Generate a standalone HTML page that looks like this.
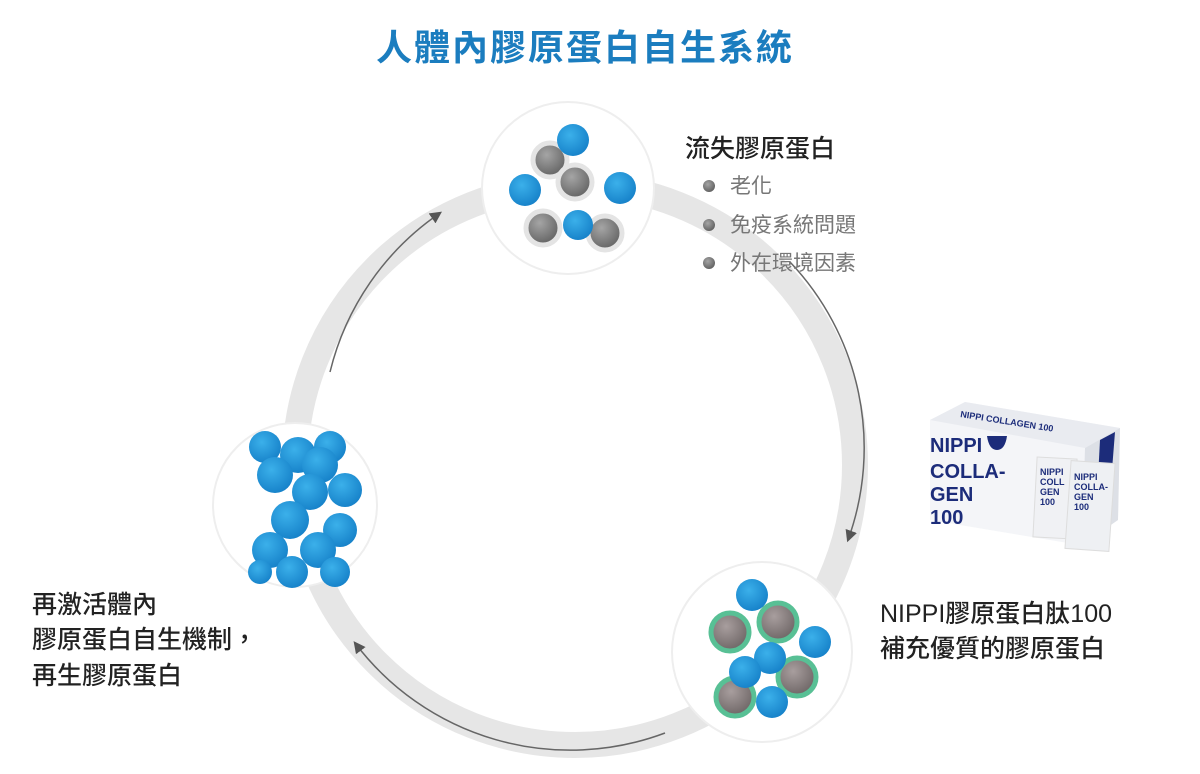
<!DOCTYPE html>
<html><head><meta charset="utf-8"><style>
html,body{margin:0;padding:0;background:#fff;width:1200px;height:774px;overflow:hidden}
svg text{font-family:"Liberation Sans","Noto Sans CJK TC",sans-serif}
</style></head><body>
<svg width="1200" height="774" viewBox="0 0 1200 774" xmlns="http://www.w3.org/2000/svg">
<defs>
<radialGradient id="b" cx="40%" cy="35%" r="70%"><stop offset="0" stop-color="#3bb0ea"/><stop offset="1" stop-color="#1580c8"/></radialGradient>
<radialGradient id="g" cx="40%" cy="35%" r="70%"><stop offset="0" stop-color="#a5a5a5"/><stop offset="1" stop-color="#5e5e5e"/></radialGradient>
<radialGradient id="gb" cx="40%" cy="35%" r="70%"><stop offset="0" stop-color="#a89e9e"/><stop offset="1" stop-color="#6a6262"/></radialGradient>
<marker id="ah" viewBox="0 0 10 10" refX="8" refY="5" markerWidth="8" markerHeight="8" orient="auto"><path d="M0,0 L10,5 L0,10 z" fill="#555"/></marker>
</defs>
<text x="585" y="60" text-anchor="middle" font-size="36" font-weight="bold" fill="#1b7dbf" letter-spacing="2">人體內膠原蛋白自生系統</text>
<circle cx="575" cy="465" r="280" fill="none" stroke="#e6e6e6" stroke-width="26"/>
<path d="M330,372 A270,270 0 0 1 440,213" fill="none" stroke="#666" stroke-width="1.5" marker-end="url(#ah)"/>
<path d="M790,262 A270,270 0 0 1 848,540" fill="none" stroke="#666" stroke-width="1.5" marker-end="url(#ah)"/>
<path d="M665,733 A270,270 0 0 1 355,643" fill="none" stroke="#666" stroke-width="1.5" marker-end="url(#ah)"/>
<circle cx="568" cy="188" r="86" fill="#fff" stroke="#eee" stroke-width="2"/>
<g fill="url(#g)" stroke="#e4e4e4" stroke-width="5">
<circle cx="550" cy="160" r="17"/><circle cx="575" cy="182" r="17"/><circle cx="543" cy="228" r="17"/><circle cx="605" cy="233" r="17"/></g>
<g fill="url(#b)"><circle cx="573" cy="140" r="16"/><circle cx="525" cy="190" r="16"/><circle cx="620" cy="188" r="16"/><circle cx="578" cy="225" r="15"/></g>
<circle cx="295" cy="505" r="82" fill="#fff" stroke="#eee" stroke-width="2"/>
<g fill="url(#b)">
<circle cx="265" cy="447" r="16"/><circle cx="330" cy="447" r="16"/><circle cx="298" cy="455" r="18"/><circle cx="320" cy="465" r="18"/>
<circle cx="275" cy="475" r="18"/><circle cx="310" cy="492" r="18"/><circle cx="345" cy="490" r="17"/><circle cx="290" cy="520" r="19"/>
<circle cx="340" cy="530" r="17"/><circle cx="270" cy="550" r="18"/><circle cx="318" cy="550" r="18"/><circle cx="292" cy="572" r="16"/><circle cx="335" cy="572" r="15"/><circle cx="260" cy="572" r="12"/></g>
<circle cx="762" cy="652" r="90" fill="#fff" stroke="#eee" stroke-width="2"/>
<g fill="url(#gb)" stroke="#58c095" stroke-width="5">
<circle cx="730" cy="632" r="19"/><circle cx="778" cy="622" r="19"/><circle cx="797" cy="677" r="19"/><circle cx="735" cy="697" r="19"/></g>
<g fill="url(#b)"><circle cx="752" cy="595" r="16"/><circle cx="815" cy="642" r="16"/><circle cx="770" cy="658" r="16"/><circle cx="745" cy="672" r="16"/><circle cx="772" cy="702" r="16"/></g>
<text x="685" y="157" font-size="25" font-weight="500" fill="#222">流失膠原蛋白</text>
<g fill="url(#g)"><circle cx="709" cy="186" r="6"/><circle cx="709" cy="225" r="6"/><circle cx="709" cy="263" r="6"/></g>
<g font-size="21" fill="#777"><text x="730" y="193">老化</text><text x="730" y="232">免疫系統問題</text><text x="730" y="270">外在環境因素</text></g>
<g font-size="25" font-weight="500" fill="#222"><text x="32" y="613">再激活體內</text><text x="32" y="648">膠原蛋白自生機制，</text><text x="32" y="684">再生膠原蛋白</text></g>
<g font-size="25" font-weight="500" fill="#222"><text x="880" y="622">NIPPI膠原蛋白肽100</text><text x="880" y="657">補充優質的膠原蛋白</text></g>
<polygon points="930,420 965,402 1120,428 1118,520 1080,545 930,520" fill="#f4f5f8"/>
<polygon points="930,420 965,402 1120,428 1085,448" fill="#e9ebf0"/>
<polygon points="1085,448 1120,428 1118,520 1082,545" fill="#dde0e6"/>
<polygon points="1100,440 1115,432 1112,470 1098,478" fill="#1c2c7a"/>
<text x="960" y="417" font-size="9" font-weight="bold" fill="#1c2c7a" transform="rotate(9 960 417)">NIPPI COLLAGEN 100</text>
<g font-size="20" font-weight="bold" fill="#1c2c7a"><text x="930" y="452">NIPPI</text><text x="930" y="478">COLLA-</text><text x="930" y="501">GEN</text><text x="930" y="524">100</text></g>
<path d="M987,436 h20 q-2,14 -10,14 q-8,0 -10,-14z" fill="#1c2c7a"/>
<rect x="1035" y="458" width="40" height="80" fill="#f0f1f4" stroke="#ddd" transform="rotate(3 1055 498)"/>
<rect x="1068" y="462" width="44" height="88" fill="#eef0f3" stroke="#ddd" transform="rotate(4 1090 506)"/>
<g font-size="9" font-weight="bold" fill="#1c2c7a"><text x="1040" y="475">NIPPI</text><text x="1040" y="485">COLL</text><text x="1040" y="495">GEN</text><text x="1040" y="505">100</text>
<text x="1074" y="480">NIPPI</text><text x="1074" y="490">COLLA-</text><text x="1074" y="500">GEN</text><text x="1074" y="510">100</text></g>
</svg>
</body></html>
